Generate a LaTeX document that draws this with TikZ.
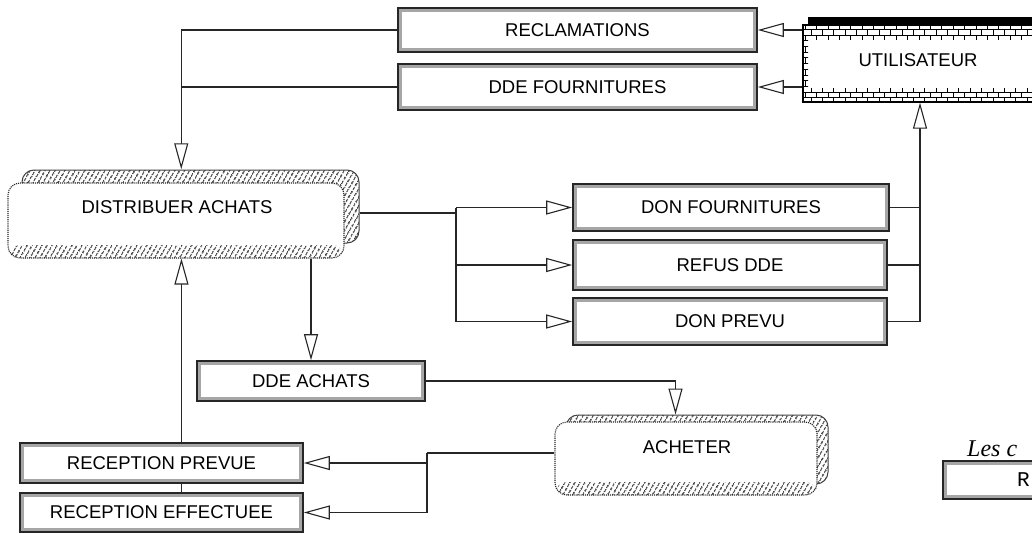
\documentclass[tikz,border=0pt]{standalone}
\usepackage{fontspec}
\setmainfont{Liberation Sans}
\newfontfamily\serifit{Liberation Serif}
\newfontfamily\monofam{Liberation Mono}
\usetikzlibrary{arrows.meta,patterns,patterns.meta,calc}
\begin{document}
\begin{tikzpicture}[x=1pt,y=-1pt,
  every node/.style={font=\fontsize{18.5}{22}\selectfont, inner sep=0pt},
  msgbox/.style={draw=black!85, line width=1.6pt, fill=white,
    path picture={\draw[black!35, line width=7.5pt, solid] (path picture bounding box.south west) rectangle (path picture bounding box.north east);}},
  conn/.style={draw=black!85, line width=1.1pt},
  arr/.style={conn, -{Triangle[open, length=26pt, width=14pt, line width=1.1pt, fill=white]}},
  hatch/.style={pattern={Lines[angle=60,distance=4pt,line width=1.5pt]}, pattern color=black!75},
  procback/.style={rounded corners=12pt, draw=black!75, line width=1pt, hatch},
  procfront/.style={rounded corners=12pt, draw=black!85, densely dotted, line width=1.1pt, fill=white,
    path picture={\fill[hatch] ([yshift=13pt]path picture bounding box.south west) rectangle (path picture bounding box.south east);}},
  actor/.style={draw=black, line width=1.3pt, fill=white,
    path picture={
      \fill[pattern=bricks] (path picture bounding box.north west) rectangle ([yshift=-14pt]path picture bounding box.north east);
      \fill[pattern=bricks] (path picture bounding box.south west) rectangle ([yshift=14pt]path picture bounding box.south east);
      \fill[pattern=bricks] (path picture bounding box.north west) rectangle ([xshift=5pt]path picture bounding box.south west);
    }},
  lbl/.style={}
]
\useasboundingbox (0,0) rectangle (1032,533);
\fill[white] (0,0) rectangle (1032,533);

% external actor
\node[actor, minimum width=234pt, minimum height=77pt] (util) at (920,63.5) {};
\fill[black] ([xshift=6pt]util.north west) rectangle ([yshift=7pt]util.north east);
\node[lbl] (utillabel) at (918,60) {UTILISATEUR};

% message boxes
\node[msgbox, minimum width=359pt, minimum height=44pt] (recl) at (577.5,30) {RECLAMATIONS};
\node[msgbox, minimum width=359pt, minimum height=46pt] (ddef) at (577.5,87) {DDE FOURNITURES};
\node[msgbox, minimum width=316pt, minimum height=47pt] (donf) at (731,207.5) {DON FOURNITURES};
\node[msgbox, minimum width=314pt, minimum height=50pt] (refus) at (730,265) {REFUS DDE};
\node[msgbox, minimum width=314pt, minimum height=47pt] (donp) at (730,321.5) {DON PREVU};
\node[msgbox, minimum width=228pt, minimum height=40pt] (ddea) at (311,381) {DDE ACHATS};
\node[msgbox, minimum width=283pt, minimum height=40pt] (recp) at (161.5,463) {RECEPTION PREVUE};
\node[msgbox, minimum width=283pt, minimum height=39pt] (rece) at (161.5,512.5) {RECEPTION EFFECTUEE};

% processes
\node[procback, minimum width=337pt, minimum height=73pt] (distrback) at (190.5,206.5) {};
\node[procfront, minimum width=336pt, minimum height=75pt] (distr) at (176,220.5) {};
\node[lbl] (distrlabel) at (177,207) {DISTRIBUER ACHATS};

\node[procback, minimum width=262pt, minimum height=69pt] (achback) at (697,449.5) {};
\node[procfront, minimum width=262pt, minimum height=73pt] (ach) at (686,458.5) {};
\node[lbl] (achlabel) at (687,447) {ACHETER};

% legend fragments
\node[font=\serifit\itshape\fontsize{24}{28}\selectfont, anchor=base west] (les) at (967,456) {Les c};
\node[msgbox, minimum width=200pt, minimum height=38pt] (legend) at (1043,480) {};
\node[font=\monofam\fontsize{21}{24}\selectfont, anchor=west] (legendtext) at (1017,480) {R};

% connectors: utilisateur -> messages
\draw[arr] (util.west |- recl.east) -- (recl.east);
\draw[arr] (util.west |- ddef.east) -- (ddef.east);
% messages -> distribuer
\draw[arr] (recl.west) -| ([xshift=160pt]distrback.north west);
\draw[conn] (ddef.west) -- ([xshift=160pt]distrback.north west |- ddef.west);

% distribuer -> outputs
\coordinate (jd) at (456,213);
\draw[conn] ([yshift=-6.5pt]distrback.east) -- (jd);
\draw[conn] (jd |- donf.west) -- (jd |- donp.west);
\draw[arr] (jd |- donf.west) -- (donf.west);
\draw[arr] (jd |- refus.west) -- (refus.west);
\draw[arr] (jd |- donp.west) -- (donp.west);

% outputs -> utilisateur
\draw[conn] (donf.east) -- (donf.east -| util.south);
\draw[conn] (refus.east) -- (refus.east -| util.south);
\draw[conn] (donp.east) -- (donp.east -| util.south) -- (donf.east -| util.south);
\draw[arr, line width=2.4pt] (donf.east -| util.south) -- (util.south);

% distribuer -> dde achats
\draw[arr] (ddea.north |- distr.south) -- (ddea.north);
% dde achats -> acheter
\draw[arr] (ddea.east) -| ([xshift=110pt]achback.north west);

% acheter -> receptions
\coordinate (ja) at (427,453);
\draw[conn] ([yshift=5.5pt]ach.west) -- (ja);
\draw[conn] (ja) -- (ja |- rece.east);
\draw[arr] (ja |- recp.east) -- (recp.east);
\draw[arr] (ja |- rece.east) -- (rece.east);

% receptions -> distribuer
\draw[arr] ([xshift=174pt]distr.south west |- recp.north) -- ([xshift=174pt]distr.south west);
\draw[conn] ([xshift=174pt]distr.south west |- rece.north) -- ([xshift=174pt]distr.south west |- recp.south);
\end{tikzpicture}
\end{document}
